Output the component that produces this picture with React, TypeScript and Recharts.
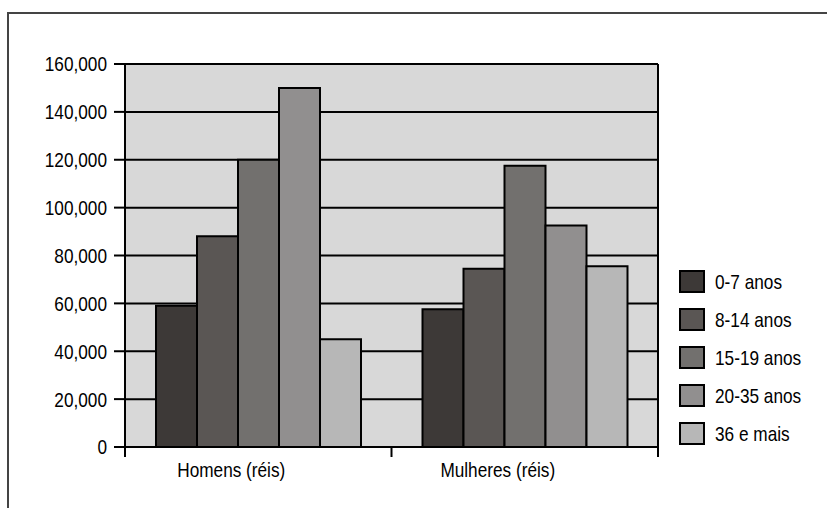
import { BarChart, Bar, XAxis, YAxis, CartesianGrid } from "recharts";

const categories = ["Homens (réis)", "Mulheres (réis)"];
const seriesNames = ["0-7 anos", "8-14 anos", "15-19 anos", "20-35 anos", "36 e mais"];
const homens = [59000, 88000, 120000, 150000, 45000];
const mulheres = [57500, 74500, 117500, 92500, 75500];
const yTicks = [0, 20000, 40000, 60000, 80000, 100000, 120000, 140000, 160000];
const colors = ["#3d3937", "#5a5654", "#72706e", "#918f8f", "#b7b7b7"];

const groups = [homens, mulheres];
const data = categories.map((name, i) => {
  const row: Record<string, string | number> = { name };
  seriesNames.forEach((s, j) => {
    row[s] = groups[i][j];
  });
  return row;
});

// no Arial Narrow here, so squeeze Liberation Sans horizontally
const FONT = "'Liberation Sans', Arial, sans-serif";
const SQUEEZE = 0.82;
const PLOT_LEFT = 125;
const PLOT_RIGHT = 658;
const PLOT_BOTTOM = 447;
const HALF_BAND = (PLOT_RIGHT - PLOT_LEFT) / categories.length / 2;

function CategoryTick(props: any) {
  const { x, payload, index } = props;
  return (
    <g>
      {index === 0 && (
        <line x1={x - HALF_BAND} x2={x - HALF_BAND} y1={PLOT_BOTTOM} y2={PLOT_BOTTOM + 10} stroke="#000" strokeWidth={2} />
      )}
      <line x1={x + HALF_BAND} x2={x + HALF_BAND} y1={PLOT_BOTTOM} y2={PLOT_BOTTOM + 10} stroke="#000" strokeWidth={2} />
      <g transform={`translate(${x - 27},${PLOT_BOTTOM + 23}) scale(${SQUEEZE},1)`}>
        <text x={0} y={0} dy="0.355em" textAnchor="middle" fontSize={21} fontFamily={FONT} fill="#000">
          {payload.value}
        </text>
      </g>
    </g>
  );
}

function ValueTick(props: any) {
  const { x, y, payload } = props;
  return (
    <g transform={`translate(${x},${y}) scale(${SQUEEZE},1)`}>
      <text x={0} y={0} dy="0.355em" textAnchor="end" fontSize={21} fontFamily={FONT} fill="#000">
        {Number(payload.value).toLocaleString("en-US")}
      </text>
    </g>
  );
}

export default function App() {
  return (
    <div style={{ position: "absolute", left: 0, top: 0, width: 827, height: 508, background: "#fff", overflow: "hidden" }}>
      <div
        style={{
          position: "absolute",
          left: 7,
          top: 12,
          width: 830,
          height: 510,
          borderTop: "2px solid #444",
          borderLeft: "2px solid #444",
        }}
      />
      <div style={{ position: "absolute", left: 0, top: 0 }}>
        <BarChart
          width={827}
          height={508}
          data={data}
          margin={{ top: 64, right: 168, bottom: 0, left: 0 }}
          barCategoryGap={31}
          barGap={0}
        >
          <CartesianGrid vertical={false} fill="#d8d8d8" stroke="#000" strokeWidth={2} fillOpacity={1} />
          <XAxis
            dataKey="name"
            height={61}
            axisLine={{ stroke: "#000", strokeWidth: 2 }}
            tickLine={false}
            tick={<CategoryTick />}
            interval={0}
          />
          <YAxis
            width={125}
            domain={[0, 160000]}
            ticks={yTicks}
            interval={0}
            tickSize={11}
            tickMargin={7}
            axisLine={{ stroke: "#000", strokeWidth: 2 }}
            tickLine={{ stroke: "#000", strokeWidth: 2 }}
            tick={<ValueTick />}
          />
          <YAxis
            yAxisId="r"
            orientation="right"
            width={1}
            domain={[0, 160000]}
            tick={false}
            tickLine={false}
            axisLine={{ stroke: "#000", strokeWidth: 2 }}
          />
          {seriesNames.map((s, i) => (
            <Bar key={s} dataKey={s} fill={colors[i]} stroke="#000" strokeWidth={2} isAnimationActive={false} />
          ))}
        </BarChart>
      </div>
      <div style={{ position: "absolute", left: 679, top: 270, fontFamily: FONT, fontSize: 21, color: "#000" }}>
        {seriesNames.map((s, i) => (
          <div key={s} style={{ display: "flex", alignItems: "center", height: 38 }}>
            <div
              style={{
                width: 22,
                height: 19,
                background: colors[i],
                border: "2px solid #000",
                marginRight: 10,
                alignSelf: "flex-start",
              }}
            />
            <span
              style={{
                lineHeight: "23px",
                marginTop: -15,
                display: "inline-block",
                transform: `scaleX(${SQUEEZE})`,
                transformOrigin: "left center",
                whiteSpace: "nowrap",
              }}
            >
              {s}
            </span>
          </div>
        ))}
      </div>
    </div>
  );
}
